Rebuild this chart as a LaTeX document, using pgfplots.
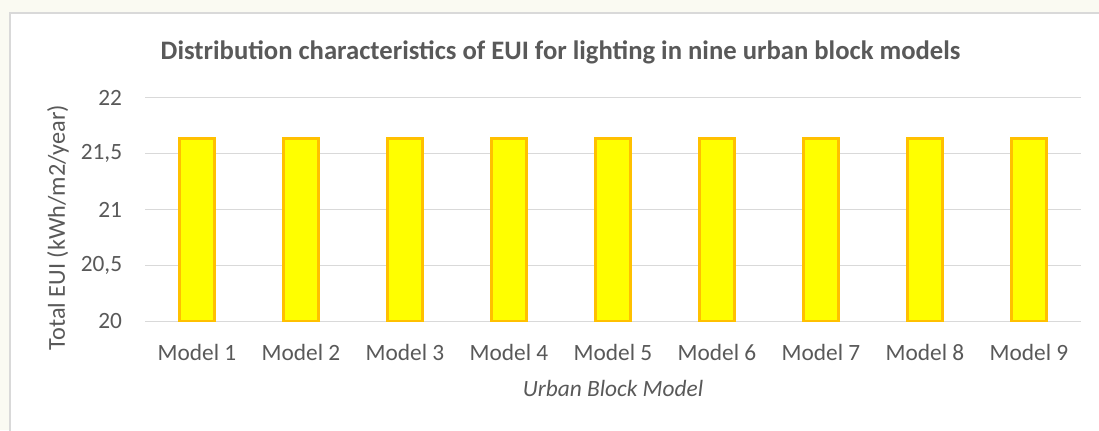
\documentclass[border=0pt]{standalone}
\usepackage{fontspec}
\setmainfont{Carlito}
\usepackage{pgfplots}
\pgfplotsset{compat=1.18}
\definecolor{cream}{HTML}{FAFAF2}
\definecolor{framegray}{HTML}{D9D9D9}
\definecolor{gridgray}{HTML}{D9D9D9}
\definecolor{txtgray}{HTML}{595959}
\definecolor{baryellow}{HTML}{FFFF00}
\definecolor{barorange}{HTML}{FFC000}
\begin{document}
\begin{tikzpicture}[x=0.75pt,y=0.75pt]
\useasboundingbox (0,0) rectangle (1099,430);
\fill[cream] (0,0) rectangle (1099,430);
\filldraw[fill=white,draw=framegray,line width=1.5pt] (10,-10) rectangle (1115,417);
\begin{axis}[
  at={(108.75pt,81.5pt)}, anchor=south west,
  scale only axis, width=702pt, height=167.6pt,
  ybar, bar width=26.25pt,
  xmin=0.5, xmax=9.5, ymin=20, ymax=22,
  xtick=data,
  xticklabels={Model 1,Model 2,Model 3,Model 4,Model 5,Model 6,Model 7,Model 8,Model 9},
  ytick={20,20.5,21,21.5,22},
  /pgf/number format/.cd, fixed, use comma, precision=1, assume math mode=true, /pgfplots/.cd,
  ymajorgrids, major grid style={color=gridgray, line width=0.75pt},
  major tick length=0,
  axis line style={draw=none},
  tick label style={font=\fontsize{17.5}{20}\selectfont, color=txtgray},
  xticklabel style={anchor=base, yshift=-29pt},
  yticklabel style={anchor=east, inner sep=0pt, xshift=-17pt},
  title={\textbf{Distribution characteristics of EUI for lighting in nine urban block models}},
  title style={at={(axis description cs:0.444,1)}, anchor=center, yshift=28pt, font=\fontsize{20}{24}\selectfont, color=txtgray},
  xlabel={\textit{Urban Block Model}},
  xlabel style={at={(axis description cs:0.5,0)}, anchor=center, yshift=-50pt, font=\fontsize{17.5}{20}\selectfont, color=txtgray},
  ylabel={Total EUI (kWh/m2/year)},
  ylabel style={at={(axis description cs:-0.093,0.42)}, anchor=center, font=\fontsize{18.2}{21}\selectfont, color=txtgray},
]
\addplot[fill=baryellow, draw=barorange, line width=2.25pt] coordinates {
(1,21.64) (2,21.64) (3,21.64) (4,21.64) (5,21.64) (6,21.64) (7,21.64) (8,21.64) (9,21.64)};
\end{axis}
\end{tikzpicture}
\end{document}
